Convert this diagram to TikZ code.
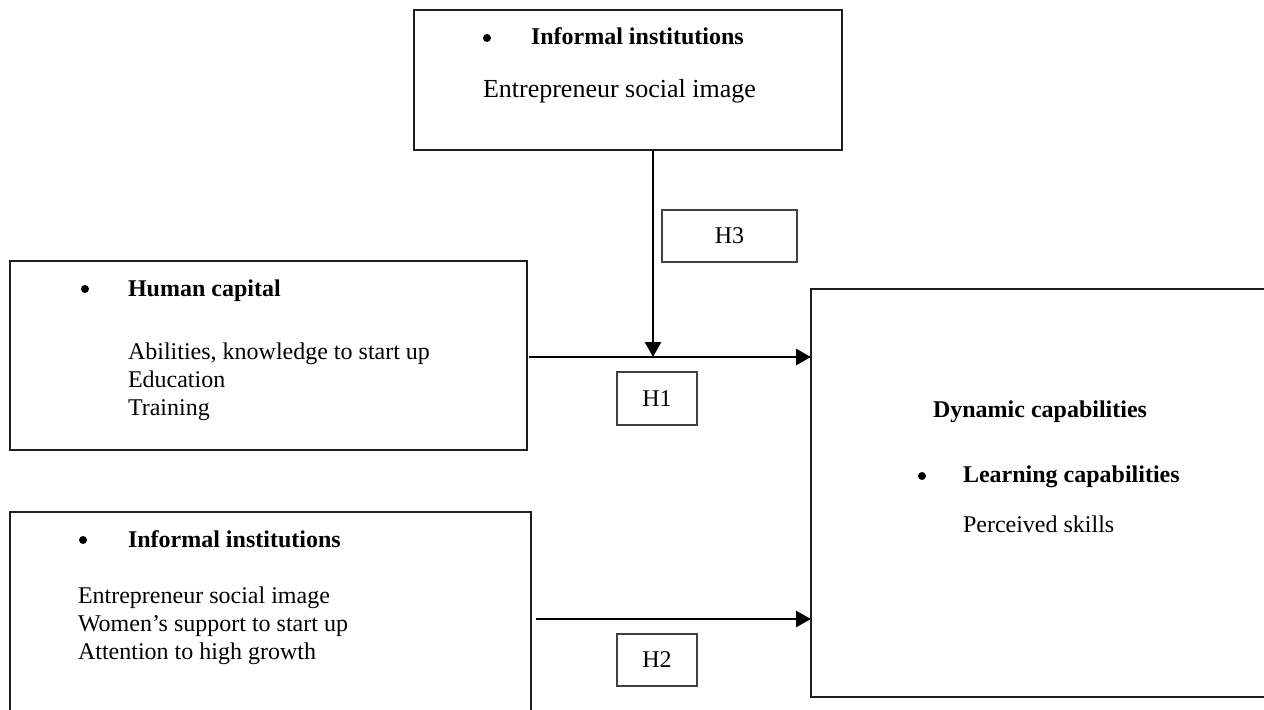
\documentclass[tikz,border=0pt]{standalone}
\usepackage{fontspec}
\setmainfont{Liberation Serif}
\usetikzlibrary{arrows.meta}
\begin{document}
\begin{tikzpicture}[x=0.5pt,y=-0.5pt,
  frame/.style={draw=black!88, line width=1pt, inner sep=0pt, outer sep=0pt},
  hbox/.style={draw=black!75, line width=0.6pt, inner sep=0pt, outer sep=0pt,
    minimum width=40pt, minimum height=26pt, font=\fontsize{12}{14}\selectfont},
  txt/.style={anchor=base west, inner sep=0pt, outer sep=0pt, font=\fontsize{12}{14}\selectfont},
  head/.style={txt, font=\fontsize{12}{14}\selectfont\bfseries},
  dot/.style={circle, fill=black, draw=none, inner sep=0pt, minimum size=4pt},
  link/.style={line width=1.4pt, -{Triangle[length=7.5pt,width=8pt]}}]
\useasboundingbox (0,0) rectangle (1264,709);

% boxes
\node[frame, minimum width=214pt, minimum height=70pt] (inst) at (628,80) {};
\node[frame, minimum width=258.5pt, minimum height=94.5pt] (human) at (268.5,355.5) {};
\node[frame, minimum width=260.5pt, minimum height=114pt] (inform) at (270.5,626) {};
\node[frame, minimum width=239.5pt, minimum height=204pt] (dyn) at (1050.5,493) {};

% hypothesis labels
\node[hbox, minimum width=67.5pt] (h3) at (729.5,236) {H3};
\node[hbox, minimum height=26.5pt] (h1) at (657,398.5) {H1};
\node[hbox] (h2) at (657,660) {H2};

% top box text
\node[dot] (b1) at (487,38) {};
\node[head] (t1) at (531,44) {Informal institutions};
\node[txt, font=\fontsize{13}{15}\selectfont] (t2) at (483,97) {Entrepreneur social image};

% human capital text
\node[dot] (b2) at (85,289) {};
\node[head] (t3) at (128,296) {Human capital};
\node[txt] (t4) at (128,359) {Abilities, knowledge to start up};
\node[txt] (t5) at (128,387) {Education};
\node[txt] (t6) at (128,415) {Training};

% lower informal institutions text
\node[dot] (b3) at (83,540) {};
\node[head] (t7) at (128,547) {Informal institutions};
\node[txt] (t8) at (78,603) {Entrepreneur social image};
\node[txt] (t9) at (78,631) {Women’s support to start up};
\node[txt] (t10) at (78,659) {Attention to high growth};

% dynamic capabilities text
\node[head] (t11) at (933,417) {Dynamic capabilities};
\node[dot] (b4) at (922,476) {};
\node[head] (t12) at (963,482) {Learning capabilities};
\node[txt] (t13) at (963,532) {Perceived skills};

% connectors
\coordinate (h1s) at (529,357);
\coordinate (meet) at (653,357);
\coordinate (h2s) at (536,619);
\draw[link] (h1s) -- (h1s -| dyn.west);
\draw[link] (inst.south -| meet) -- (meet);
\draw[link] (h2s) -- (h2s -| dyn.west);
\end{tikzpicture}
\end{document}
